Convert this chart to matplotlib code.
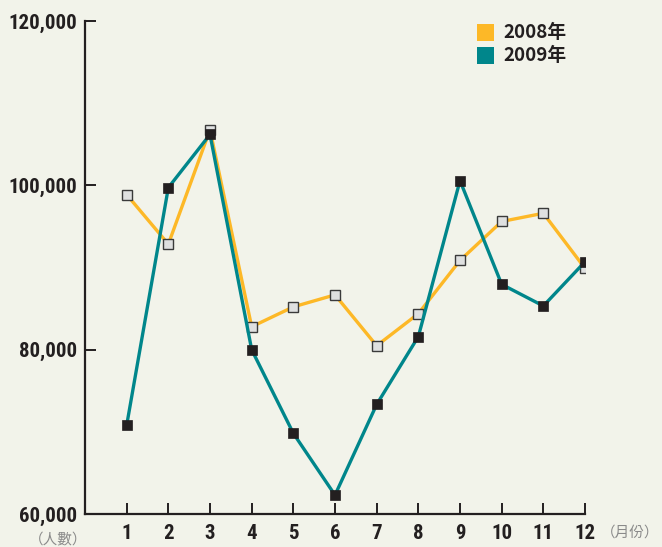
import matplotlib
matplotlib.use("Agg")
import matplotlib.pyplot as plt
from matplotlib.patches import Rectangle
from matplotlib import font_manager

months = [1, 2, 3, 4, 5, 6, 7, 8, 9, 10, 11, 12]
visitors_2008 = [98870, 92840, 106760, 82790, 85210, 86670, 80480, 84380, 90860, 95600, 96600, 89900]
visitors_2009 = [70790, 99720, 106190, 80000, 69820, 62300, 73330, 81590, 100570, 87950, 85320, 90700]
y_ticks = [60000, 80000, 100000, 120000]
y_tick_labels = ["60,000", "80,000", "100,000", "120,000"]
series_names = ["2008年", "2009年"]

BG = "#f2f3ea"
ORANGE = "#fdb827"
TEAL = "#00868b"
DARK = "#231f20"

# pick a condensed bold face if one is installed
cond_words = ('condensed', 'semi-condensed', 'extra-condensed', 'ultra-condensed')
num_font = None
pref = ['Liberation Sans Narrow', 'Roboto Condensed', 'Open Sans Condensed',
        'Noto Sans', 'Open Sans', 'Roboto', 'DejaVu Sans']
cands = []
for f in font_manager.fontManager.ttflist:
    st = str(f.stretch).lower()
    w = f.weight if isinstance(f.weight, (int, float)) else 700 if 'bold' in str(f.weight).lower() else 400
    narrow = st in cond_words or 'narrow' in f.name.lower() or 'condensed' in f.name.lower()
    if narrow and w >= 600 and f.style == 'normal':
        rank = pref.index(f.name) if f.name in pref else len(pref)
        cands.append((rank, 0 if st == 'condensed' else 1, f.fname))
if cands:
    cands.sort()
    num_font = font_manager.FontProperties(fname=cands[0][2], size=15)
else:
    num_font = font_manager.FontProperties(family='DejaVu Sans', stretch='condensed',
                                           weight='bold', size=12)

plt.rcParams['font.family'] = ['Noto Sans CJK TC', 'DejaVu Sans']

fig = plt.figure(figsize=(6.62, 5.47), dpi=100, facecolor=BG)
W, H = 662, 547
ax = fig.add_axes([85 / W, (H - 514) / H, 500 / W, (514 - 21) / H])
ax.set_facecolor(BG)

ax.plot(months, visitors_2008, color=ORANGE, lw=2.4, marker='s', ms=6.5,
        mfc='#dfe0e0', mec='#3a3a3a', mew=1.0, zorder=3)
ax.plot(months, visitors_2009, color=TEAL, lw=2.4, marker='s', ms=6.8,
        mfc=DARK, mec=DARK, mew=0.5, zorder=4)

ax.set_xlim(0, 12)
ax.set_ylim(60000, 120000)
ax.set_xticks(months)
ax.set_xticklabels([str(m) for m in months])
ax.set_yticks(y_ticks)
ax.set_yticklabels(y_tick_labels)

for s in ['top', 'right']:
    ax.spines[s].set_visible(False)
for s in ['left', 'bottom']:
    ax.spines[s].set_color(DARK)
    ax.spines[s].set_linewidth(1.6)

ax.tick_params(axis='both', direction='in', length=8, width=1.4, color=DARK,
               labelcolor=DARK)
ax.tick_params(axis='y', pad=5.5)
ax.tick_params(axis='x', pad=7)
for lab in ax.get_xticklabels() + ax.get_yticklabels():
    lab.set_fontproperties(num_font)

# unit labels
fig.text(58 / W, 1 - 540 / H, "（人數）", ha='center', va='center', fontsize=10.5,
         color='#8a8a8a', family=['Noto Sans CJK TC', 'DejaVu Sans'])
fig.text(630 / W, 1 - 533 / H, "（月份）", ha='center', va='center', fontsize=10.5,
         color='#8a8a8a', family=['Noto Sans CJK TC', 'DejaVu Sans'])

# legend
for i, (name, col) in enumerate(zip(series_names, [ORANGE, TEAL])):
    y0 = 24 + i * 23
    fig.patches.append(Rectangle((477 / W, 1 - (y0 + 17) / H), 17 / W, 17 / H,
                                 transform=fig.transFigure, facecolor=col,
                                 edgecolor='none'))
    fig.text(503 / W, 1 - (y0 + 8.5) / H, name, ha='left', va='center',
             fontsize=13.5, fontweight='bold', color=DARK,
             family=['Noto Sans CJK TC', 'DejaVu Sans'])

fig.savefig("out.png", dpi=100, facecolor=BG)
